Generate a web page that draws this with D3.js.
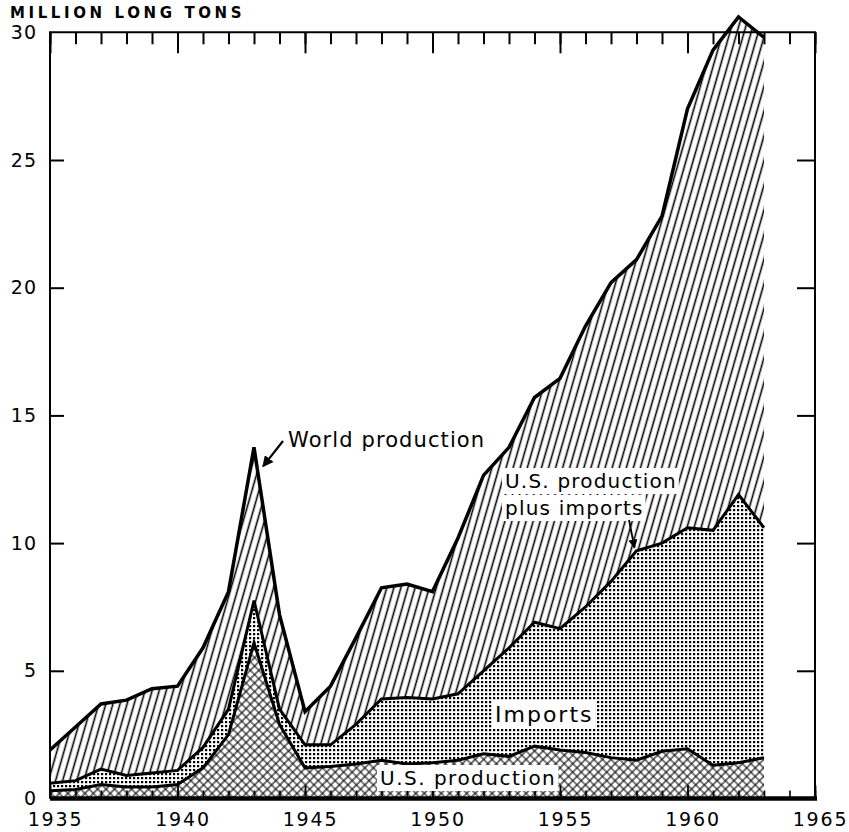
<!DOCTYPE html>
<html>
<head>
<meta charset="utf-8">
<script src="https://cdn.jsdelivr.net/npm/d3@7"></script>
<style>
  html, body { margin: 0; padding: 0; background: #fff; }
  svg { display: block; }
  text { font-family: "DejaVu Sans", sans-serif; fill: #000; }
</style>
</head>
<body>
<svg id="chart" width="849" height="832"></svg>
<script>
// ---- Data (million long tons) ----
const years = [1935,1936,1937,1938,1939,1940,1941,1942,1943,1944,1945,1946,1947,1948,1949,
               1950,1951,1952,1953,1954,1955,1956,1957,1958,1959,1960,1961,1962,1963];
const worldProduction = [1.9,2.8,3.7,3.85,4.3,4.4,5.9,8.1,13.75,7.2,3.4,4.4,6.3,8.25,8.4,
                         8.1,10.2,12.65,13.75,15.7,16.45,18.5,20.2,21.1,22.8,27.0,29.3,30.6,29.8];
const usProduction = [0.3,0.35,0.55,0.45,0.45,0.55,1.2,2.5,6.1,2.9,1.2,1.25,1.35,1.5,1.35,
                      1.4,1.5,1.75,1.65,2.05,1.9,1.8,1.6,1.5,1.85,1.95,1.3,1.4,1.6];
const imports = [0.3,0.35,0.6,0.45,0.55,0.55,0.8,1.0,1.65,0.6,0.9,0.85,1.55,2.4,2.6,
                 2.5,2.6,3.25,4.25,4.85,4.75,5.7,6.9,8.2,8.15,8.65,9.2,10.5,9.0];
const xTicksMajor = [1935,1940,1945,1950,1955,1960,1965];
const yTicks = [0,5,10,15,20,25,30];
const yUnitLabel = "MILLION LONG TONS";
const labelWorld = "World production";
const labelTotal = ["U.S. production", "plus imports"];
const labelImports = "Imports";
const labelUS = "U.S. production";

const rows = years.map((y, i) => ({ year: y, us: usProduction[i], imports: imports[i], world: worldProduction[i] }));

const svg = d3.select("#chart");
const x = d3.scaleLinear().domain([1935, 1965]).range([50, 815]);
const y = d3.scaleLinear().domain([0, 30]).range([798.5, 32.3]);

// ---- Patterns ----
const defs = svg.append("defs");
const hatch = defs.append("pattern").attr("id", "hatch").attr("patternUnits", "userSpaceOnUse")
  .attr("width", 6.8).attr("height", 10).attr("patternTransform", "rotate(16)");
hatch.append("rect").attr("width", 6.8).attr("height", 10).attr("fill", "#fff");
hatch.append("line").attr("x1", 3.4).attr("x2", 3.4).attr("y1", 0).attr("y2", 10)
  .attr("stroke", "#000").attr("stroke-width", 1.6);

const dots = defs.append("pattern").attr("id", "dots").attr("patternUnits", "userSpaceOnUse")
  .attr("width", 4).attr("height", 4);
dots.append("rect").attr("width", 4).attr("height", 4).attr("fill", "#fff");
dots.append("rect").attr("x", 1).attr("y", 1).attr("width", 2.2).attr("height", 2.2).attr("fill", "#000");

const cross = defs.append("pattern").attr("id", "cross").attr("patternUnits", "userSpaceOnUse")
  .attr("width", 6).attr("height", 6).attr("patternTransform", "rotate(45)");
cross.append("rect").attr("width", 6).attr("height", 6).attr("fill", "#fff");
cross.append("path").attr("d", "M3,0V6M0,3H6").attr("stroke", "#000").attr("stroke-width", 1.1);

const marker = defs.append("marker").attr("id", "arrow").attr("viewBox", "0 0 10 10")
  .attr("refX", 9).attr("refY", 5).attr("markerWidth", 5).attr("markerHeight", 5)
  .attr("markerUnits", "strokeWidth").attr("orient", "auto");
marker.append("path").attr("d", "M0,0L10,5L0,10z").attr("fill", "#000");

// ---- Stack ----
const stack = d3.stack().keys(["us", "imports"]);
const series = stack(rows);

const areaWorld = d3.area().x(d => x(d.year)).y0(y(0)).y1(d => y(d.world));
const areaStack = d3.area().x(d => x(d.data.year)).y0(d => y(d[0])).y1(d => y(d[1]));
const lineWorld = d3.line().x(d => x(d.year)).y(d => y(d.world));
const lineStack = d3.line().x(d => x(d.data.year)).y(d => y(d[1]));

svg.append("path").datum(rows).attr("d", areaWorld).attr("fill", "url(#hatch)");
svg.append("path").datum(series[1]).attr("d", areaStack).attr("fill", "url(#dots)");
svg.append("path").datum(series[0]).attr("d", areaStack).attr("fill", "url(#cross)");

svg.append("path").datum(rows).attr("d", lineWorld).attr("fill", "none")
  .attr("stroke", "#000").attr("stroke-width", 3.5).attr("stroke-linejoin", "miter");
svg.append("path").datum(series[1]).attr("d", lineStack).attr("fill", "none")
  .attr("stroke", "#000").attr("stroke-width", 3).attr("stroke-linejoin", "miter");
svg.append("path").datum(series[0]).attr("d", lineStack).attr("fill", "none")
  .attr("stroke", "#000").attr("stroke-width", 3).attr("stroke-linejoin", "miter");

// ---- Axes ----
const allYears = d3.range(1935, 1966);
function styleAxis(g, w) {
  g.selectAll("line").attr("stroke", "#000").attr("stroke-width", w);
  g.selectAll(".domain").remove();
}
// top
svg.append("g").attr("transform", `translate(0,${y(30)})`)
  .call(d3.axisBottom(x).tickValues(allYears).tickSize(12).tickFormat(""))
  .call(g => styleAxis(g, 2));
svg.append("g").attr("transform", `translate(0,${y(30)})`)
  .call(d3.axisBottom(x).tickValues(xTicksMajor).tickSize(21).tickFormat(""))
  .call(g => styleAxis(g, 2));
// bottom ticks (upward)
svg.append("g").attr("transform", `translate(0,${y(0)})`)
  .call(d3.axisTop(x).tickValues(allYears).tickSize(8).tickFormat(""))
  .call(g => styleAxis(g, 1.6));
svg.append("g").attr("transform", `translate(0,${y(0)})`)
  .call(d3.axisTop(x).tickValues(xTicksMajor).tickSize(13).tickFormat(""))
  .call(g => styleAxis(g, 1.8));
// bottom labels
svg.append("g").attr("transform", `translate(5,${y(0)})`)
  .call(d3.axisBottom(x).tickValues(xTicksMajor).tickSize(0).tickPadding(14).tickFormat(d3.format("d")))
  .call(g => { g.select(".domain").remove();
    g.selectAll("text").style("font-family", "DejaVu Sans, sans-serif").attr("font-size", 19)
      .attr("letter-spacing", 1.8).attr("fill", "#000"); });
// left ticks inward
svg.append("g").attr("transform", `translate(${x(1935)},0)`)
  .call(d3.axisRight(y).tickValues([5,10,15,20,25]).tickSize(14).tickFormat(""))
  .call(g => styleAxis(g, 2));
// left labels
svg.append("g").attr("transform", `translate(${x(1935)},0)`)
  .call(d3.axisLeft(y).tickValues(yTicks).tickSize(0).tickPadding(13).tickFormat(d3.format("d")))
  .call(g => { g.select(".domain").remove();
    g.selectAll("text").style("font-family", "DejaVu Sans, sans-serif").attr("font-size", 19)
      .attr("letter-spacing", 1).attr("fill", "#000"); });
// right ticks inward
svg.append("g").attr("transform", `translate(${x(1965)},0)`)
  .call(d3.axisLeft(y).tickValues([5,10,15,20,25]).tickSize(18).tickFormat(""))
  .call(g => styleAxis(g, 2));

// frame
svg.append("path")
  .attr("d", `M${x(1935)},${y(0)}V${y(30)}H${x(1965)}V${y(0)}`)
  .attr("fill", "none").attr("stroke", "#000").attr("stroke-width", 2);
svg.append("line").attr("x1", x(1935)).attr("x2", x(1965) + 2).attr("y1", y(0)).attr("y2", y(0))
  .attr("stroke", "#000").attr("stroke-width", 4.5);

// unit label
svg.append("text").attr("x", 10).attr("y", 18).text(yUnitLabel)
  .attr("font-size", 15).attr("font-weight", "bold").attr("letter-spacing", 3.6);

// ---- Annotations ----
function label(txt, lx, ly, size, ls, bg) {
  const t = svg.append("text").attr("x", lx).attr("y", ly).text(txt)
    .attr("font-size", size).attr("letter-spacing", ls);
  if (bg) {
    const b = t.node().getBBox();
    svg.insert("rect", () => t.node()).attr("x", b.x - 3).attr("y", b.y - 1)
      .attr("width", b.width + 5).attr("height", b.height + 2).attr("fill", "#fff");
  }
  return t;
}
label(labelWorld, 288, 447, 21, 1.1, false);
svg.append("line").attr("x1", 283).attr("y1", 441)
  .attr("x2", x(1943) + 9).attr("y2", y(13.75) + 19)
  .attr("stroke", "#000").attr("stroke-width", 2.2).attr("marker-end", "url(#arrow)");

label(labelTotal[0], 505, 488, 20, 1.2, true);
label(labelTotal[1], 505, 515, 20, 1.2, true);
svg.append("line").attr("x1", 629).attr("y1", 520)
  .attr("x2", x(1958) - 2).attr("y2", y(9.7) - 3)
  .attr("stroke", "#000").attr("stroke-width", 1.8).attr("marker-end", "url(#arrow)");

label(labelImports, 495, 722, 22, 2, true);
label(labelUS, 380, 785, 20, 1.5, true);
</script>
</body>
</html>
